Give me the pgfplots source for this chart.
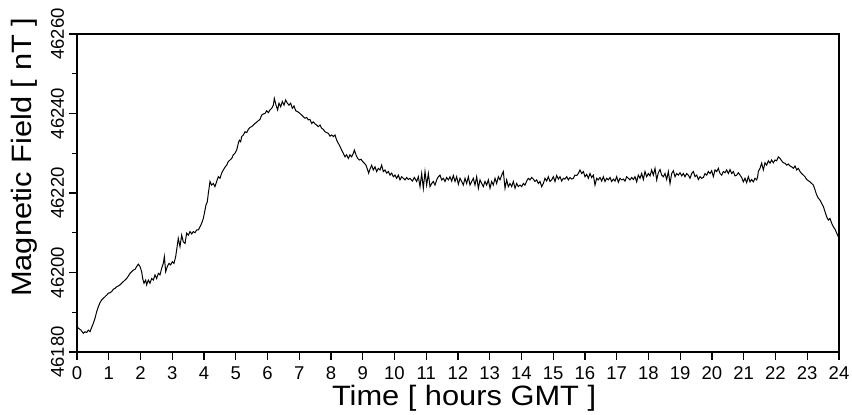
\documentclass[border=0pt]{standalone}
\usepackage{pgfplots}
\pgfplotsset{compat=1.18}
\usepackage{fontspec}
\setmainfont{Liberation Sans}
\newfontfamily\labelfont[FakeStretch=1.1]{Liberation Sans}
\begin{document}
\begin{tikzpicture}
\path[use as bounding box] (-77pt,-63pt) rectangle (775pt,352pt);
\begin{axis}[
  at={(0,0)}, anchor=south west,
  scale only axis, width=762pt, height=318pt,
  xmin=0, xmax=24, ymin=46180, ymax=46260,
  xtick={0,1,...,24},
  ytick={46180,46200,46220,46240,46260},
  minor ytick={46190,46210,46230,46250},
  tick pos=left, tick align=outside,
  major tick length=8pt, minor tick length=5pt,
  axis line style={line width=1.2pt},
  every tick/.style={black, line width=1.2pt},
  /pgf/number format/assume math mode=true,
  /pgf/number format/1000 sep={},
  scaled y ticks=false,
  xticklabel style={font=\fontsize{18.5}{20}\selectfont},
  yticklabel style={font=\fontsize{18.5}{20}\selectfont, rotate=90, anchor=base, inner sep=0pt},
  yticklabel shift=5pt,
  xticklabel shift=3pt,
  xlabel={Time [ hours GMT ]},
  ylabel={Magnetic Field [ nT ]},
  label style={font=\labelfont\fontsize{28}{32}\selectfont},
  xlabel style={at={([yshift=-53pt]axis description cs:0.508,0)}, anchor=base},
  ylabel style={at={([xshift=-45pt]axis description cs:0,0.612)}, anchor=base},
]
\addplot[black, line width=1pt] coordinates {
(0,46186.5) (0.042,46186.0) (0.126,46185.5) (0.199,46184.7) (0.252,46185.1) (0.305,46184.9)
(0.357,46185.5) (0.409,46185.1) (0.462,46186.2) (0.514,46187.2) (0.567,46188.5) (0.619,46190.1)
(0.672,46191.4) (0.724,46192.4) (0.777,46193.1) (0.829,46193.5) (0.882,46193.9) (0.934,46194.3)
(0.987,46194.8) (1.039,46194.9) (1.092,46195.2) (1.144,46195.8) (1.197,46196.0) (1.249,46196.4)
(1.302,46196.6) (1.354,46196.9) (1.407,46197.3) (1.459,46197.7) (1.512,46198.1) (1.564,46198.5)
(1.617,46199.1) (1.669,46199.8) (1.722,46200.2) (1.774,46200.6) (1.827,46200.8) (1.879,46201.5)
(1.932,46202.1) (1.984,46201.5) (2.037,46200.2) (2.068,46198.5) (2.110,46197.3) (2.163,46198.1)
(2.194,46196.9) (2.247,46198.1) (2.299,46197.3) (2.352,46198.5) (2.404,46198.1) (2.457,46199.4)
(2.509,46198.5) (2.562,46199.8) (2.614,46199.4) (2.667,46201.1) (2.719,46202.3) (2.751,46204.0)
(2.793,46200.2) (2.845,46201.5) (2.898,46202.3) (2.950,46201.9) (3.003,46202.7) (3.055,46202.3)
(3.108,46204.0) (3.139,46205.7) (3.19,46208.6) (3.244,46206.5) (3.297,46209.4) (3.349,46207.7)
(3.402,46207.3) (3.454,46209.9) (3.507,46209.4) (3.559,46210.3) (3.612,46209.7) (3.664,46210.3)
(3.717,46210.0) (3.769,46210.7) (3.822,46210.7) (3.874,46211.5) (3.927,46212.4) (3.979,46213.6)
(4.031,46215.7) (4.063,46217.0) (4.105,46217.8) (4.136,46219.9) (4.189,46222.9) (4.241,46222.0)
(4.294,46222.4) (4.346,46221.6) (4.399,46222.9) (4.451,46224.1) (4.504,46223.7) (4.556,46225.0)
(4.609,46225.8) (4.661,46226.5) (4.714,46227.0) (4.766,46227.9) (4.819,46228.3) (4.871,46228.7)
(4.924,46229.6) (4.976,46230.0) (5.029,46230.8) (5.081,46232.5) (5.113,46233.3) (5.155,46232.9)
(5.187,46234.2) (5.239,46234.6) (5.291,46235.4) (5.344,46235.2) (5.396,46236.0) (5.449,46236.5)
(5.501,46236.7) (5.554,46237.1) (5.606,46237.5) (5.659,46237.8) (5.711,46238.2) (5.764,46238.5)
(5.816,46239.6) (5.869,46239.9) (5.921,46240.0) (5.974,46240.7) (6.026,46240.2) (6.079,46240.9)
(6.131,46241.3) (6.184,46242.1) (6.215,46243.8) (6.268,46242.1) (6.320,46240.9) (6.362,46242.6)
(6.415,46241.7) (6.467,46243.0) (6.520,46242.1) (6.572,46243.4) (6.625,46242.6) (6.677,46242.1)
(6.730,46242.6) (6.782,46241.3) (6.835,46241.9) (6.887,46240.7) (6.940,46240.5) (6.992,46240.2)
(7.024,46240.0) (7.076,46239.6) (7.129,46239.2) (7.181,46238.8) (7.234,46239.0) (7.286,46238.4)
(7.339,46238.5) (7.391,46237.5) (7.444,46237.9) (7.496,46237.4) (7.549,46237.1) (7.601,46236.7)
(7.654,46237.1) (7.706,46236.3) (7.759,46236.0) (7.811,46235.4) (7.864,46235.2) (7.916,46235.0)
(7.969,46234.3) (8.021,46234.6) (8.074,46234.2) (8.126,46234.6) (8.178,46233.3) (8.231,46232.5)
(8.283,46231.7) (8.336,46230.8) (8.388,46230.0) (8.441,46229.1) (8.493,46229.6) (8.546,46228.7)
(8.598,46229.6) (8.651,46229.1) (8.703,46230.0) (8.735,46230.8) (8.787,46229.6) (8.840,46228.7)
(8.892,46228.3) (8.945,46228.5) (8.997,46227.9) (9.050,46227.5) (9.102,46227.0) (9.155,46225.8)
(9.186,46225.0) (9.228,46226.0) (9.281,46227.0) (9.333,46225.8) (9.386,46226.6) (9.438,46225.4)
(9.491,46226.2) (9.543,46225.8) (9.596,46227.0) (9.648,46225.4) (9.701,46225.8) (9.753,46225.0)
(9.806,46225.4) (9.858,46224.5) (9.911,46225.0) (9.963,46224.1) (10.016,46224.5) (10.068,46223.7)
(10.121,46224.5) (10.173,46223.3) (10.226,46224.1) (10.278,46223.7) (10.331,46223.3) (10.383,46223.9)
(10.436,46223.4) (10.488,46223.7) (10.562,46223.0) (10.625,46223.9) (10.698,46222.9) (10.751,46224.1)
(10.803,46221.6) (10.856,46224.9) (10.908,46221.2) (10.961,46225.4) (11.013,46222.0) (11.066,46224.9)
(11.118,46221.6) (11.171,46222.4) (11.223,46222.9) (11.276,46222.0) (11.328,46223.3) (11.381,46224.1)
(11.433,46224.5) (11.486,46223.3) (11.538,46223.7) (11.591,46222.9) (11.643,46223.9) (11.696,46223.3)
(11.748,46224.1) (11.801,46223.0) (11.853,46224.4) (11.906,46222.9) (11.958,46224.1) (12.011,46222.2)
(12.063,46223.7) (12.116,46222.9) (12.168,46222.0) (12.221,46223.7) (12.273,46222.4) (12.326,46224.1)
(12.378,46222.0) (12.431,46222.9) (12.483,46223.7) (12.536,46222.0) (12.588,46224.1) (12.641,46221.2)
(12.693,46223.3) (12.746,46222.4) (12.798,46221.6) (12.851,46222.9) (12.903,46222.0) (12.956,46223.3)
(13.008,46221.2) (13.061,46222.9) (13.113,46222.0) (13.166,46223.7) (13.218,46222.4) (13.271,46224.1)
(13.323,46223.3) (13.376,46224.5) (13.428,46225.4) (13.481,46221.2) (13.533,46223.3) (13.586,46221.6)
(13.638,46222.4) (13.691,46221.6) (13.743,46222.9) (13.796,46221.2) (13.848,46222.4) (13.901,46221.6)
(13.953,46222.0) (14.005,46221.6) (14.058,46222.4) (14.110,46222.0) (14.163,46223.0) (14.215,46223.7)
(14.268,46223.3) (14.320,46223.9) (14.373,46223.5) (14.425,46222.9) (14.478,46223.3) (14.530,46222.4)
(14.583,46222.9) (14.635,46221.6) (14.688,46222.4) (14.740,46223.7) (14.793,46223.0) (14.845,46224.1)
(14.898,46222.9) (14.950,46223.3) (15.003,46224.1) (15.055,46222.9) (15.108,46224.4) (15.160,46223.5)
(15.213,46224.1) (15.265,46223.0) (15.318,46223.7) (15.370,46223.5) (15.423,46224.1) (15.475,46223.3)
(15.528,46223.9) (15.580,46223.5) (15.633,46223.7) (15.685,46224.5) (15.738,46224.4) (15.790,46224.9)
(15.843,46225.8) (15.895,46224.9) (15.948,46225.4) (16.000,46224.1) (16.053,46224.7) (16.105,46223.7)
(16.158,46224.9) (16.210,46223.9) (16.263,46224.5) (16.315,46222.0) (16.368,46223.7) (16.420,46223.3)
(16.473,46223.9) (16.525,46223.0) (16.578,46224.1) (16.630,46222.9) (16.683,46223.7) (16.735,46223.3)
(16.788,46223.9) (16.840,46222.9) (16.893,46223.5) (16.945,46223.0) (16.998,46224.1) (17.050,46222.7)
(17.103,46223.7) (17.155,46223.3) (17.208,46223.5) (17.260,46223.0) (17.313,46224.1) (17.365,46223.7)
(17.418,46223.3) (17.470,46223.9) (17.523,46223.4) (17.575,46224.1) (17.628,46222.8) (17.680,46224.5)
(17.733,46223.7) (17.785,46224.9) (17.838,46223.4) (17.890,46225.4) (17.943,46224.1) (17.995,46224.9)
(18.048,46224.3) (18.100,46225.8) (18.153,46224.5) (18.205,46226.2) (18.258,46223.3) (18.310,46225.1)
(18.363,46225.9) (18.415,46224.5) (18.468,46224.1) (18.520,46224.9) (18.573,46223.4) (18.625,46225.4)
(18.678,46222.4) (18.730,46224.9) (18.783,46225.6) (18.835,46224.1) (18.888,46224.9) (18.940,46224.5)
(18.993,46225.1) (19.045,46224.3) (19.098,46224.9) (19.150,46224.1) (19.203,46224.9) (19.255,46224.5)
(19.308,46223.7) (19.360,46224.9) (19.413,46225.4) (19.465,46224.1) (19.518,46224.5) (19.570,46223.4)
(19.623,46224.1) (19.675,46223.7) (19.728,46223.9) (19.780,46224.9) (19.833,46224.5) (19.885,46225.4)
(19.938,46224.9) (19.990,46225.6) (20.043,46224.1) (20.095,46225.8) (20.148,46225.4) (20.200,46226.2)
(20.253,46224.9) (20.305,46224.5) (20.358,46225.4) (20.410,46225.1) (20.463,46225.8) (20.515,46224.9)
(20.568,46225.9) (20.620,46224.9) (20.673,46225.4) (20.725,46224.3) (20.778,46224.5) (20.830,46225.1)
(20.883,46224.5) (20.934,46223.9) (20.987,46222.8) (21.039,46223.7) (21.092,46222.6) (21.144,46224.1)
(21.197,46222.8) (21.249,46223.4) (21.302,46222.8) (21.354,46223.7) (21.407,46223.3) (21.438,46224.1)
(21.459,46225.4) (21.512,46226.2) (21.564,46227.5) (21.617,46225.8) (21.669,46227.6) (21.722,46227.0)
(21.774,46228.1) (21.827,46227.5) (21.879,46228.3) (21.932,46227.6) (21.984,46228.3) (22.037,46228.1)
(22.089,46229.1) (22.142,46228.7) (22.194,46228.1) (22.247,46227.6) (22.299,46227.5) (22.352,46227.0)
(22.404,46227.3) (22.457,46226.8) (22.509,46226.6) (22.562,46226.2) (22.614,46226.8) (22.667,46225.8)
(22.719,46226.2) (22.772,46225.4) (22.824,46224.9) (22.877,46224.5) (22.929,46224.1) (22.982,46223.4)
(23.034,46223.1) (23.087,46222.8) (23.139,46222.4) (23.192,46222.0) (23.244,46220.8) (23.297,46219.5)
(23.349,46218.7) (23.402,46218.2) (23.454,46217.4) (23.507,46216.6) (23.559,46215.3) (23.612,46214.0)
(23.664,46213.2) (23.717,46213.6) (23.769,46212.4) (23.822,46211.5) (23.874,46210.9) (23.927,46209.9)
(23.979,46209.0) (24.0,46208.3)
};
\end{axis}
\end{tikzpicture}
\end{document}
